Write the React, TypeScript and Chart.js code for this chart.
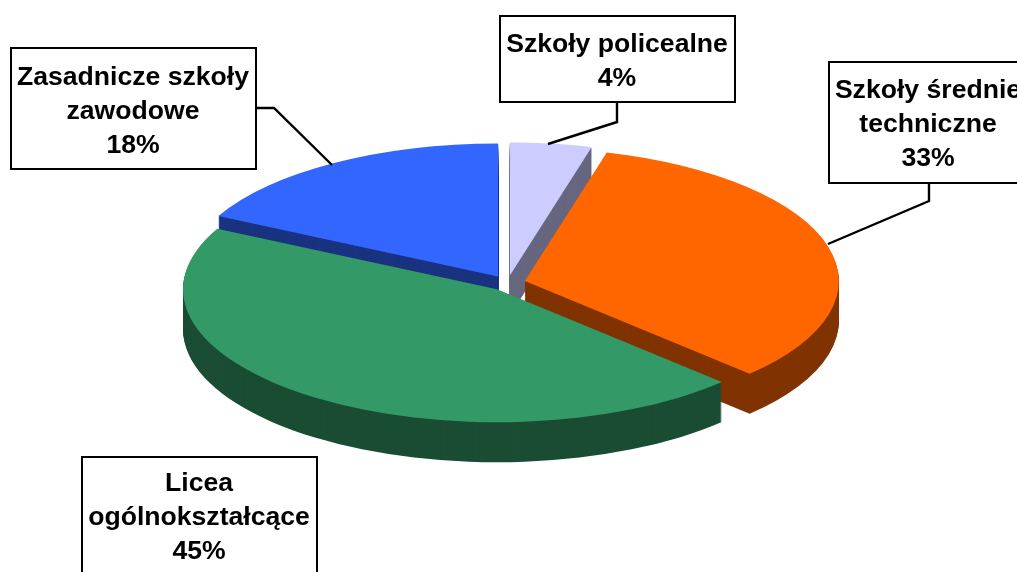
import React, { useEffect, useRef } from "react";
import { Chart, registerables } from "chart.js";

Chart.register(...registerables);

const categories = ["Szkoły policealne", "Szkoły średnie techniczne", "Licea ogólnokształcące", "Zasadnicze szkoły zawodowe"];
const values = [4.2, 33.1, 45.2, 17.5];
const topColors = ["#CCCCFF", "#FF6600", "#339966", "#3366FF"];
const wallColors = ["#66667F", "#803300", "#1A4D33", "#1A3380"];
const labelLines = [
  ["Szkoły policealne", "4%"],
  ["Szkoły średnie", "techniczne", "33%"],
  ["Licea", "ogólnokształcące", "45%"],
  ["Zasadnicze szkoły", "zawodowe", "18%"],
];
// x, y, w, h of each callout box, the text centre, and its leader line
const labelBoxes = [
  [500, 16, 235, 86],
  [829, 62, 220, 121],
  [82, 457, 235, 140],
  [11, 48, 245, 121],
];
const labelCentres = [617, 928, 199, 133];
const labelFirstBaselines = [52, 98, 491, 85];
const leaders = [
  [[617, 102], [617, 122], [548, 144]],
  [[929, 183], [929, 201], [828, 244]],
  [],
  [[256, 108], [274, 108], [332, 165]],
];

const W = 1017;
const H = 572;
const RADIUS = 200;
const RX = 314;
const RY = 133;
const CX = 507.5;
const CY = 283;
const EXPLODE = 18 / 314; // fraction of the radius
const DEPTH = 40;
const PAINT_ORDER = [3, 0, 1, 2];

const piePlugin = {
  id: "pie3d",
  beforeDatasetDraw(chart: any, args: any) {
    const ctx = chart.ctx;
    const arcs = args.meta.data;
    const place = (arc: any, lift: number) => {
      const mid = (arc.startAngle + arc.endAngle) / 2;
      const dx = Math.cos(mid) * EXPLODE * RX;
      const dy = Math.sin(mid) * EXPLODE * RY;
      ctx.translate(CX + dx, CY + dy + lift);
      ctx.scale(RX / RADIUS, RY / RADIUS);
      ctx.translate(-arc.x, -arc.y);
    };
    for (const i of PAINT_ORDER) {
      const arc = arcs[i];
      const own = arc.options;
      arc.options = { ...own, backgroundColor: wallColors[i], borderColor: wallColors[i] };
      for (let k = DEPTH; k >= 1; k--) {
        ctx.save();
        place(arc, k);
        arc.draw(ctx);
        ctx.restore();
      }
      arc.options = own;
      ctx.save();
      place(arc, 0);
      arc.draw(ctx);
      ctx.restore();
    }
    return false;
  },
  afterDraw(chart: any) {
    const ctx = chart.ctx;
    ctx.save();
    ctx.strokeStyle = "#000000";
    ctx.lineWidth = 2.4;
    leaders.forEach((pts) => {
      if (!pts.length) return;
      ctx.beginPath();
      pts.forEach(([x, y], n) => (n ? ctx.lineTo(x, y) : ctx.moveTo(x, y)));
      ctx.stroke();
    });
    ctx.lineWidth = 2;
    labelBoxes.forEach(([x, y, w, h], i) => {
      ctx.fillStyle = "#FFFFFF";
      ctx.fillRect(x, y, w, h);
      ctx.strokeRect(x, y, w, h);
      ctx.fillStyle = "#000000";
      ctx.font = "bold 26.6px 'Liberation Sans', Arial, sans-serif";
      ctx.textAlign = "center";
      ctx.textBaseline = "alphabetic";
      labelLines[i].forEach((line, n) => {
        ctx.fillText(line, labelCentres[i], labelFirstBaselines[i] + n * 34);
      });
    });
    ctx.restore();
  },
};

export default function App() {
  const ref = useRef<HTMLCanvasElement>(null);
  useEffect(() => {
    const chart = new Chart(ref.current as HTMLCanvasElement, {
      type: "pie",
      data: {
        labels: categories,
        datasets: [{ data: values, backgroundColor: topColors, borderWidth: 0 }],
      },
      options: {
        responsive: false,
        animation: false,
        radius: RADIUS,
        layout: { padding: 0 },
        plugins: { legend: { display: false }, tooltip: { enabled: false } },
      } as any,
      plugins: [piePlugin as any],
    });
    return () => chart.destroy();
  }, []);
  return (
    <div style={{ position: "fixed", left: 0, top: 0, width: W, height: H, background: "#FFFFFF", overflow: "hidden" }}>
      <canvas ref={ref} width={W} height={H} style={{ display: "block", width: W, height: H }} />
    </div>
  );
}
